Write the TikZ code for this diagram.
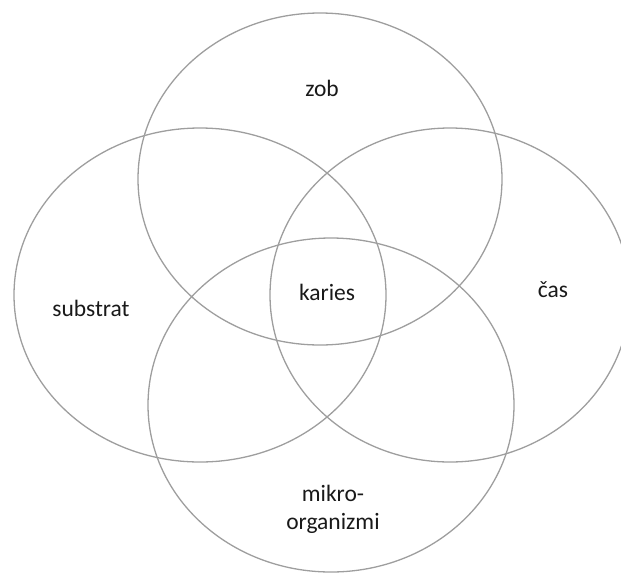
\documentclass[tikz,border=0pt]{standalone}
\usepackage{fontspec}
\setmainfont{Carlito}
\usetikzlibrary{shapes.geometric}
\tikzset{
  set/.style={ellipse,draw=black!38,line width=1.3pt,inner sep=0pt},
  lbl/.style={text=black!90,font=\fontsize{23.5}{28}\selectfont,align=center,inner sep=0pt}
}
\begin{document}
\begin{tikzpicture}[x=1pt,y=-1pt]
\useasboundingbox (0,0) rectangle (621,574);
\clip (0,0) rectangle (621,574);
\node[set,minimum width=364pt,minimum height=332pt] (Zob) at (320,179) {};
\node[set,minimum width=372pt,minimum height=334pt] (Sub) at (200,295) {};
\node[set,minimum width=360pt,minimum height=334pt] (Cas) at (450,295) {};
\node[set,minimum width=366pt,minimum height=334pt] (Mik) at (331,405) {};
\node[lbl] (zob) at (322,88) {zob};
\node[lbl] (substrat) at (91,308) {substrat};
\node[lbl] (karies) at (327,292) {karies};
\node[lbl] (cas) at (553,290) {čas};
\node[lbl] (mikro) at (333,509) {mikro-\\organizmi};
\end{tikzpicture}
\end{document}
